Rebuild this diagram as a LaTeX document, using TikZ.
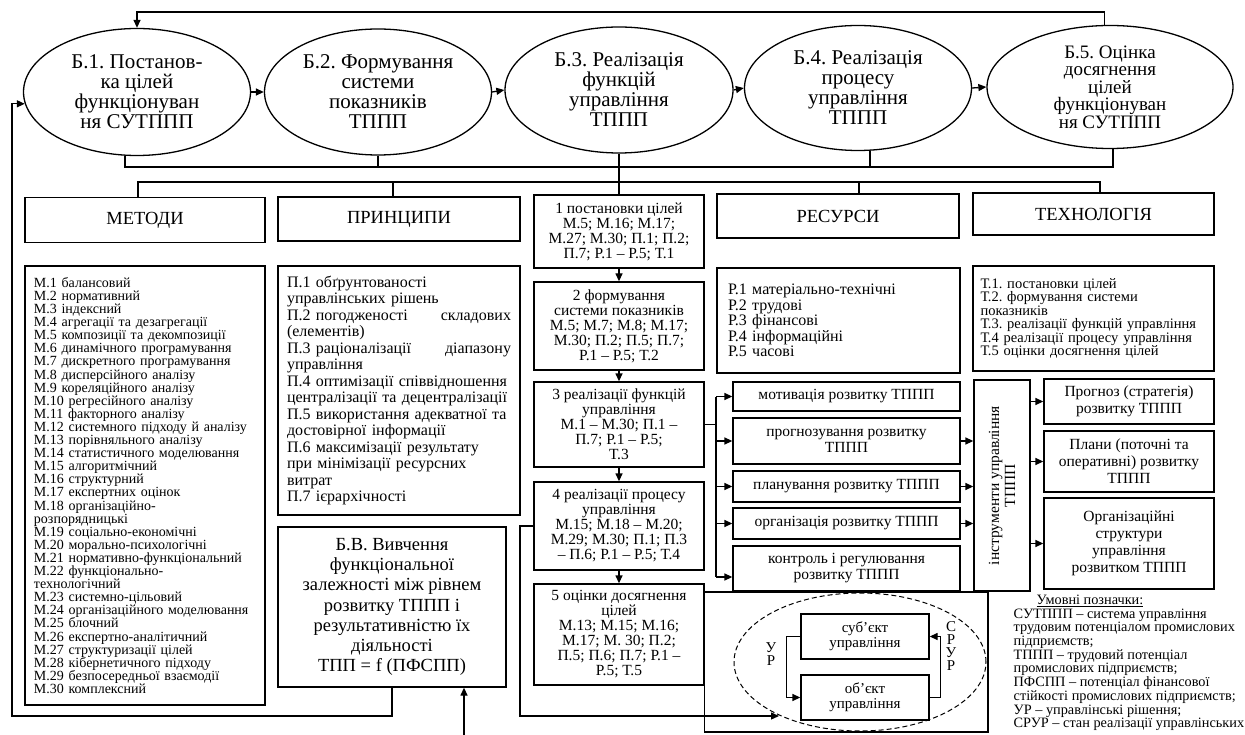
\documentclass[tikz,border=0pt]{standalone}
\usepackage{fontspec}
\setmainfont{Liberation Serif}
\frenchspacing
\usetikzlibrary{shapes.geometric,arrows.meta}
\tikzset{>={Triangle[length=8pt,width=7pt]}}
\tikzset{
  etap/.style={ellipse, draw, inner sep=0pt, align=center, font=\fontsize{21}{20}\selectfont},
  rubryka/.style={draw, font=\fontsize{18.5}{20}\selectfont},
  perelik/.style={draw, align=left, inner sep=0pt},
  krok/.style={draw, minimum width=170, align=center, inner sep=0pt, font=\fontsize{15.5}{15}\selectfont},
  funktsiia/.style={draw, minimum width=227, align=center, inner sep=0pt, font=\fontsize{15.5}{16}\selectfont},
  rezult/.style={draw, minimum width=170, align=center, inner sep=0pt, font=\fontsize{15.5}{17}\selectfont},
  pidsyst/.style={draw, minimum width=128, minimum height=45, align=center, inner sep=0pt, font=\fontsize{15}{15}\selectfont},
}

\begin{document}
\begin{tikzpicture}[x=1pt, y=-1pt, line width=1.3pt]
	\useasboundingbox (0,0) rectangle (1245,735);

	% etapy
	\node[etap, minimum width=227, minimum height=127] (b1) at (137,92) {Б.1. Постанов-\\ка цілей\\функціонуван\\ня СУТППП};
	\node[etap, minimum width=227, minimum height=126] (b2) at (378,92) {Б.2. Формування\\системи\\показників\\ТППП};
	\node[etap, minimum width=228, minimum height=126] (b3) at (619,90) {Б.3. Реалізація\\функцій\\управління\\ТППП};
	\node[etap, minimum width=227, minimum height=125] (b4) at (858,88) {Б.4. Реалізація\\процесу\\управління\\ТППП};
	\node[etap, minimum width=246, minimum height=123, font=\fontsize{19}{17.5}\selectfont] (b5) at (1110,87) {Б.5. Оцінка\\досягнення\\цілей\\функціонуван\\ня СУТППП};
	\foreach \p/\q in {b1/b2,b2/b3,b3/b4,b4/b5}
		\draw[->] (\p.east) -- (\q.west);

	\coordinate (zv) at (137,12);
	\draw[->] (b5.95) |- (zv) -- (b1.north);

	\coordinate (z1) at (125,167);
	\coordinate (z4) at (870,167);
	\coordinate (z5) at (1113,167);
	\draw (z1 |- b1.south) -- (z1) -- (z5) -- (z5 |- b5.south);
	\draw (b2.south) -- (b2.south |- z1);
	\draw (z4 |- b4.south) -- (z4);

	% rubryky
	\node[rubryka, minimum width=240, minimum height=45] (metody) at (145,220) {МЕТОДИ};
	\node[rubryka, minimum width=242, minimum height=44] (pryntsypy) at (399,219) {ПРИНЦИПИ};
	\node[rubryka, minimum width=242, minimum height=44] (resursy) at (838,216) {РЕСУРСИ};
	\node[rubryka, minimum width=241, minimum height=42] (tekhn) at (1093.5,214) {ТЕХНОЛОГІЯ};

	\coordinate (r1) at (138,182);
	\coordinate (r2) at (393,182);
	\coordinate (r3) at (859,182);
	\coordinate (r4) at (1100,182);
	\draw (r1 |- metody.north) -- (r1) -- (r4) -- (r4 |- tekhn.north);
	\draw (r2) -- (r2 |- pryntsypy.north);
	\draw (r3) -- (r3 |- resursy.north);

	% perelik
	\node[perelik, minimum width=240, minimum height=439, text width=222, font=\fontsize{14}{13.1}\selectfont] (mlist) at (145,485.5) {М.1 балансовий\\М.2 нормативний\\М.3 індексний\\М.4 агрегації та дезагрегації\\М.5 композиції та декомпозиції\\М.6 динамічного програмування\\М.7 дискретного програмування\\М.8 дисперсійного аналізу\\М.9 кореляційного аналізу\\М.10 регресійного аналізу\\М.11 факторного аналізу\\М.12 системного підходу й аналізу\\М.13 порівняльного аналізу\\М.14 статистичного моделювання\\М.15 алгоритмічний\\М.16 структурний\\М.17 експертних оцінок\\М.18 організаційно-\\розпорядницькі\\М.19 соціально-економічні\\М.20 морально-психологічні\\М.21 нормативно-функціональний\\М.22 функціонально-\\технологічний\\М.23 системно-цільовий\\М.24 організаційного моделювання\\М.25 блочний\\М.26 експертно-аналітичний\\М.27 структуризації цілей\\М.28 кібернетичного підходу\\М.29 безпосередньої взаємодії\\М.30 комплексний};
	\node[perelik, minimum width=242, minimum height=249, text width=224, font=\fontsize{16}{16.5}\selectfont] (plist) at (399,390.5) {П.1 обґрунтованості\\управлінських рішень\\П.2 погодженості \hfill складових\\(елементів)\\П.3 раціоналізації \hfill діапазону\\управління\\П.4 оптимізації співвідношення\\централізації та децентралізації\\П.5 використання адекватної та\\достовірної інформації\\П.6 максимізації результату\\при мінімізації ресурсних\\витрат\\П.7 ієрархічності};
	\node[perelik, minimum width=243, minimum height=105, text width=221, font=\fontsize{16}{15.5}\selectfont] (rlist) at (838.5,320.5) {Р.1 матеріально-технічні\\Р.2 трудові\\Р.3 фінансові\\Р.4 інформаційні\\Р.5 часові};
	\node[perelik, minimum width=241, minimum height=105, text width=226, font=\fontsize{14.5}{13.5}\selectfont] (tlist) at (1093.5,318.5) {Т.1. постановки цілей\\Т.2. формування системи\\показників\\Т.3. реалізації функцій управління\\Т.4 реалізації процесу управління\\Т.5 оцінки досягнення цілей};

	\node[draw, minimum width=228, minimum height=160, align=center, inner sep=0pt, font=\fontsize{18.5}{20.3}\selectfont] (bv) at (392,607) {Б.В. Вивчення\\функціональної\\залежності між рівнем\\розвитку ТППП і\\результативністю їх\\діяльності\\ТПП = f (ПФСПП)};

	% kroky
	\node[krok, minimum height=73] (k1) at (619,231.5) {1 постановки цілей\\М.5; М.16; М.17;\\М.27; М.30; П.1; П.2;\\П.7; Р.1 – Р.5; Т.1};
	\node[krok, minimum height=88] (k2) at (619,326) {2 формування\\системи показників\\М.5; М.7; М.8; М.17;\\М.30; П.2; П.5; П.7;\\Р.1 – Р.5; Т.2};
	\node[krok, minimum height=85] (k3) at (619,424.5) {3 реалізації функцій\\управління\\М.1 – М.30; П.1 –\\П.7; Р.1 – Р.5;\\Т.3};
	\node[krok, minimum height=88] (k4) at (619,526) {4 реалізації процесу\\управління\\М.15; М.18 – М.20;\\М.29; М.30; П.1; П.3\\– П.6; Р.1 – Р.5; Т.4};
	\node[krok, minimum height=101] (k5) at (619,634.5) {5 оцінки досягнення\\цілей\\М.13; М.15; М.16;\\М.17; М. 30; П.2;\\П.5; П.6; П.7; Р.1 –\\Р.5; Т.5};
	\draw (b3.south) -- (k1.north);
	\foreach \p/\q in {k1/k2,k2/k3,k3/k4,k4/k5}
		\draw[->] (\p.south) -- (\q.north);

	% funktsii
	\node[funktsiia, minimum height=29] (f1) at (846.5,396.5) {мотивація розвитку ТППП};
	\node[funktsiia, minimum height=46] (f2) at (846.5,441) {прогнозування розвитку\\ТППП};
	\node[funktsiia, minimum height=31] (f3) at (846.5,486.5) {планування розвитку ТППП};
	\node[funktsiia, minimum height=31] (f4) at (846.5,523.5) {організація розвитку ТППП};
	\node[funktsiia, minimum height=45] (f5) at (846.5,568.5) {контроль і регулювання\\розвитку ТППП};

	\coordinate (shyna) at (716,424.5);
	\coordinate (shynab) at (716,577);
	\draw (k3.east) -- (shyna);
	\draw (shyna |- f1.west) -- (shynab);
	\foreach \f in {f1,f2,f3,f4}
		\draw[->] (shyna |- \f.west) -- (\f.west);
	\draw[->] (shynab) -- (shynab -| f5.west);

	\node[draw, rotate=90, minimum width=211, minimum height=56, align=center, inner sep=0pt, font=\fontsize{15.5}{16}\selectfont] (instr) at (1002,485.5) {інструменти управління\\ТППП};
	\foreach \f in {f2,f3,f4}
		\draw[->] (\f.east) -- (\f.east -| instr.north);

	\node[rezult, minimum height=45] (o1) at (1129,401.5) {Прогноз (стратегія)\\розвитку ТППП};
	\node[rezult, minimum height=61] (o2) at (1129,461.5) {Плани (поточні та\\оперативні) розвитку\\ТППП};
	\node[rezult, minimum height=91] (o3) at (1129,543.5) {Організаційні\\структури\\управління\\розвитком ТППП};
	\foreach \o in {o1,o2,o3}
		\draw[->] (\o.west -| instr.south) -- (\o.west);

	% kontur upravlinnia
	\node[ellipse, draw, dashed, dash pattern=on 5pt off 3pt, line width=1pt, minimum width=252, minimum height=138] (kontur) at (860,662) {};
	\node[pidsyst] (subj) at (865,636.5) {суб’єкт\\управління};
	\node[pidsyst] (obj) at (865,697.5) {об’єкт\\управління};
	\draw[->] (subj.west) -- ++(-14,0) |- (obj.west);
	\draw[->] (obj.east) -- ++(11,0) |- (subj.east);
	\node[align=center, inner sep=0pt, font=\fontsize{15}{13}\selectfont] (ur) at (771,654) {У\\Р};
	\node[align=center, inner sep=0pt, font=\fontsize{15}{13}\selectfont] (srur) at (951,646) {С\\Р\\У\\Р};

	\coordinate (ramka) at (988,592);
	\draw (k5.east |- ramka) -| (988,732) -| (k5.south east);

	\coordinate (pz) at (520,716);
	\coordinate (pzk) at (779,716);
	\draw[->] (k4.west) -| (pz) -- (pzk);

	% zvorotni zviazky
	\coordinate (zl) at (12,716);
	\draw[->] (bv.south) |- (zl) |- (b1.186);
	\coordinate (vkhid) at (464,735);
	\draw[->] (vkhid) -- (vkhid |- bv.south);

	% umovni poznachky
	\node[font=\fontsize{14.3}{13.7}\selectfont] (lgh) at (1090,601) {\underline{Умовні позначки:}};
	\node[anchor=north west, align=left, inner sep=0pt, font=\fontsize{14.3}{13.7}\selectfont] (lg) at (1013,608) {СУТППП – система управління\\трудовим потенціалом промислових\\підприємств;\\ТППП – трудовий потенціал\\промислових підприємств;\\ПФСПП – потенціал фінансової\\стійкості промислових підприємств;\\УР – управлінські рішення;\\СРУР – стан реалізації управлінських};

\end{tikzpicture}
\end{document}
